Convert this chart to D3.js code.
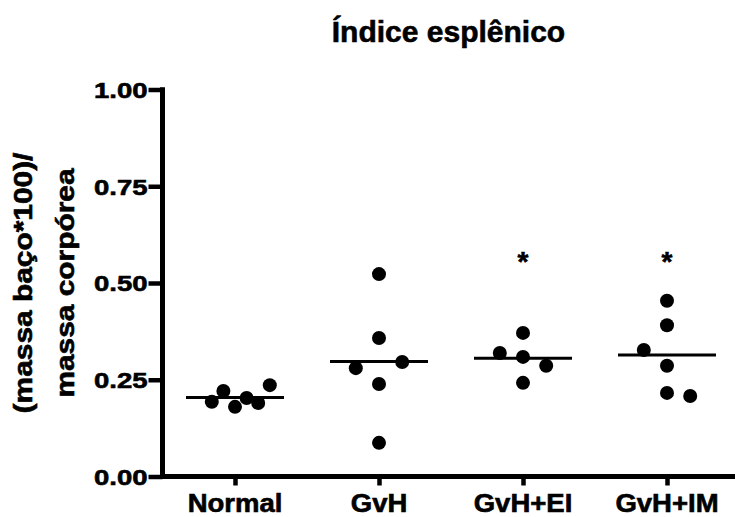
<!DOCTYPE html>
<html>
<head>
<meta charset="utf-8">
<script src="https://cdn.jsdelivr.net/npm/d3@7"></script>
<style>
  html, body { margin: 0; padding: 0; background: #fff; }
  svg { display: block; }
  text { font-family: "Liberation Sans", Arial, sans-serif; font-weight: bold; fill: #000; stroke: #000; stroke-width: 0.6px; }
</style>
</head>
<body>
<script>
// ---- data ----
const title = "Índice esplênico";
const yLabelLines = ["(massa baço*100)/", "massa corpórea"];
const categories = ["Normal", "GvH", "GvH+EI", "GvH+IM"];
const normalValues = [0.193, 0.221, 0.180, 0.203, 0.190, 0.236];
const gvhValues    = [0.523, 0.358, 0.280, 0.296, 0.239, 0.087];
const gvhEIValues  = [0.371, 0.319, 0.309, 0.286, 0.242];
const gvhIMValues  = [0.454, 0.391, 0.327, 0.286, 0.208, 0.216];
// jitter slot of each point (column in the scatter)
const normalSlots = [-2, -1, 0, 1, 2, 3];
const gvhSlots    = [0, 0, -2, 2, 0, 0];
const gvhEISlots  = [0, -2, 0, 2, 0];
const gvhIMSlots  = [0, 0, -2, 0, 2, 0];
const significance = ["", "", "*", "*"];
const significanceLevel = 0.57;
const yTicks = [0, 0.25, 0.5, 0.75, 1.0];
const yTickLabels = ["0.00", "0.25", "0.50", "0.75", "1.00"];

const groups = [
  { name: categories[0], values: normalValues, slots: normalSlots },
  { name: categories[1], values: gvhValues,    slots: gvhSlots },
  { name: categories[2], values: gvhEIValues,  slots: gvhEISlots },
  { name: categories[3], values: gvhIMValues,  slots: gvhIMSlots }
];

// ---- layout ----
const W = 735, H = 517;
const axisX = 162.5, axisY = 476.5, axisRight = 735;
const svg = d3.select("body").append("svg").attr("width", W).attr("height", H);

const y = d3.scaleLinear().domain([0, 1]).range([axisY, 89.5]);
const x = d3.scalePoint().domain(categories).range([235, 667]);
const slotW = 11.6;

// title
svg.append("text").attr("x", 448.5).attr("y", 42)
  .attr("text-anchor", "middle").attr("font-size", 30).text(title);

// y label
const yl = svg.append("g").attr("transform", `translate(0,${(axisY + 89.5) / 2})`);
yLabelLines.forEach((t, i) => {
  yl.append("text")
    .attr("transform", `translate(${32 + i * 42},0) rotate(-90) scale(1.15,1)`)
    .attr("text-anchor", "middle").attr("font-size", 26).text(t);
});

// y axis
const yAxis = d3.axisLeft(y).tickValues(yTicks).tickSize(14).tickFormat((d, i) => yTickLabels[i]);
const gy = svg.append("g").attr("transform", `translate(${axisX},0)`).call(yAxis);
gy.select(".domain").remove();
gy.selectAll(".tick line").attr("stroke", "#000").attr("stroke-width", 4.5);
gy.selectAll(".tick text").remove();
gy.selectAll(".tick").append("text")
  .attr("transform", "translate(-15,0) scale(1.25,1)")
  .attr("text-anchor", "end").attr("dy", "0.36em").attr("font-size", 22)
  .attr("fill", "#000")
  .text((d, i) => yTickLabels[i]);
svg.append("line").attr("x1", axisX).attr("x2", axisX).attr("y1", y(1) - 2.25).attr("y2", axisY + 2.5)
  .attr("stroke", "#000").attr("stroke-width", 5);

// x axis
const xAxis = d3.axisBottom(x).tickSize(9).tickFormat("");
const gx = svg.append("g").attr("transform", `translate(0,${axisY})`).call(xAxis);
gx.select(".domain").remove();
gx.selectAll(".tick line").attr("stroke", "#000").attr("stroke-width", 4.5);
svg.append("line").attr("x1", axisX - 2.5).attr("x2", axisRight).attr("y1", axisY).attr("y2", axisY)
  .attr("stroke", "#000").attr("stroke-width", 5);
svg.append("g").selectAll("text").data(categories).join("text")
  .attr("transform", d => `translate(${x(d)},512) scale(1.1,1)`)
  .attr("text-anchor", "middle").attr("font-size", 25).text(d => d);

// points and mean lines
const plot = svg.append("g");
groups.forEach((g, gi) => {
  const cx = x(g.name);
  plot.append("g").selectAll("circle").data(g.values).join("circle")
    .attr("cx", (d, i) => cx + g.slots[i] * slotW)
    .attr("cy", d => y(d))
    .attr("r", 7).attr("fill", "#000");
  const m = d3.mean(g.values);
  plot.append("line").attr("x1", cx - 49).attr("x2", cx + 49)
    .attr("y1", y(m)).attr("y2", y(m)).attr("stroke", "#000").attr("stroke-width", 3);
  if (significance[gi]) {
    plot.append("text").attr("x", cx).attr("y", y(significanceLevel) + 15)
      .attr("text-anchor", "middle").attr("font-size", 28).attr("font-weight", "normal")
      .attr("stroke-width", 0.4)
      .text(significance[gi]);
  }
});
</script>
</body>
</html>
